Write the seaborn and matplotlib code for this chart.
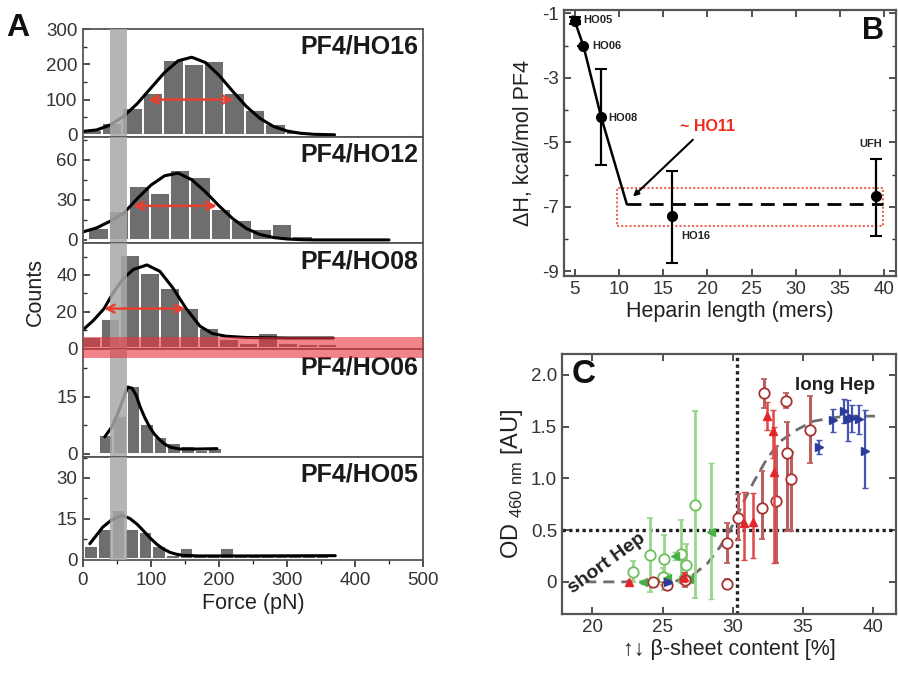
import matplotlib
matplotlib.use("Agg")
import matplotlib.pyplot as plt
import matplotlib.ticker as mt
from matplotlib.patches import Rectangle
import numpy as np
import pandas as pd
import seaborn as sns

sns.set_theme(style="ticks")
plt.rcParams["font.family"] = ["Liberation Sans", "DejaVu Sans"]
plt.rcParams["mathtext.fontset"] = "custom"
plt.rcParams["mathtext.rm"] = "Liberation Sans"
plt.rcParams["axes.unicode_minus"] = False

# ---------------- panel A: rupture force histograms ----------------
ho16_centers = [13, 43, 73, 103, 133, 163, 193, 223, 253, 283, 313, 343, 373, 403, 433, 463, 493]
ho16_counts = [14, 35, 77, 120, 211, 200, 209, 120, 71, 31, 12, 5, 1, 2, 2, 3, 4]
ho16_fit_x = [0, 20, 40, 60, 80, 100, 120, 140, 160, 180, 200, 220, 240, 260, 280, 300, 320, 340, 370]
ho16_fit_y = [10, 14, 28, 53, 89, 133, 177, 210, 220, 205, 169, 124, 81, 47, 24, 11, 4.5, 1.6, 0.3]

ho12_centers = [23, 53, 83, 113, 143, 173, 203, 233, 263, 293, 323]
ho12_counts = [9, 22, 40, 35, 52, 47, 23, 15, 8, 12, 3]
ho12_fit_x = [0, 20, 40, 60, 80, 100, 120, 140, 160, 180, 200, 220, 240, 260, 280, 300, 320, 340, 450]
ho12_fit_y = [6, 9, 14, 20, 31, 41, 48, 50, 45, 36, 25.5, 16, 8.6, 4.1, 1.8, 0.7, 0.2, 0, 0]

ho08_centers = [11.5, 40.5, 69.5, 98.5, 127.5, 156.5, 185.5, 214.5, 243.5, 272.5, 301.5, 330.5, 359.5]
ho08_counts = [6, 16, 51, 41, 33, 22, 11, 5, 3, 8, 3, 2, 2]
ho08_fit_x = [0, 15, 31, 44, 59, 74, 94, 113, 132, 151, 172, 190, 210, 240, 300, 368]
ho08_fit_y = [10, 15, 21.6, 30, 38, 43, 45.5, 42, 33, 22, 12, 8, 6.5, 5.8, 5.5, 5.5]

ho06_centers = [34, 54, 74, 94, 114, 134, 154, 174, 194]
ho06_counts = [5, 10, 18, 8, 4.5, 3, 2, 1, 1.5]
ho06_fit_x = [32, 42, 52, 60, 66, 72, 78, 84, 91, 98, 105, 113, 120, 128, 142, 170, 197]
ho06_fit_y = [4.5, 7, 11, 15, 17.6, 17.3, 15.5, 12.4, 9.5, 7.1, 5.2, 3.7, 2.6, 1.8, 1.3, 1.3, 1.4]

ho05_centers = [12, 32, 52, 72, 92, 112, 132, 152, 172, 192, 212, 232, 252, 272, 292, 312, 332, 352]
ho05_counts = [5, 11, 18, 11, 10, 5, 1.5, 4, 1, 1, 4, 1, 1, 1, 1, 1, 1, 1]
ho05_fit_x = [10, 29, 42, 57, 69, 80, 88, 98, 109, 118, 128, 138, 147, 170, 250, 371]
ho05_fit_y = [5.7, 11.8, 14.5, 16.2, 15, 12.8, 10.7, 8, 5.4, 3.8, 2.5, 1.8, 1.4, 1.2, 1.2, 1.3]

# FWHM arrows (from, to, height)
ho16_fwhm = (96, 221, 100)
ho12_fwhm = (74, 197, 25.5)
ho08_fwhm = (31, 151, 21.6)

# ---------------- panel B: enthalpy vs heparin length ----------------
b_length = [5, 6, 8, 16, 39]
b_dH = [-1.23, -2.02, -4.22, -7.27, -6.67]
b_low = [-1.33, -2.02, -5.70, -8.75, -7.89]
b_high = [-1.13, -2.02, -2.74, -5.88, -5.52]
b_names = ["HO05", "HO06", "HO08", "HO16", "UFH"]
b_name_x = [6.0, 7.0, 8.85, 17.1, 37.2]
b_name_y = [-1.2, -2.0, -4.25, -7.9, -5.05]
trend_x = [4.8, 5, 6, 8, 10.9]
trend_y = [-1.1, -1.23, -2.02, -4.22, -6.92]
plateau_x = [10.9, 39.8]
plateau_y = [-6.92, -6.92]

# ---------------- panel C: OD vs beta-sheet content ----------------
fit_c_x = [19.5, 24.5, 26, 27.2, 28.2, 29.1, 30, 30.75, 31.5, 32.43, 33.4, 34.57, 35.7, 36.9, 38, 40.1]
fit_c_y = [0, 0, 0.01, 0.07, 0.18, 0.34, 0.55, 0.77, 0.97, 1.19, 1.36, 1.47, 1.55, 1.58, 1.6, 1.6]

green_open_x = [22.9, 24.1, 25.1, 25.0, 26.3, 26.7, 27.3, 26.55]
green_open_y = [0.10, 0.26, 0.22, 0.05, 0.27, 0.16, 0.74, 0.03]
green_open_lo = [0.0, -0.10, -0.08, -0.03, -0.01, 0.02, -0.16, -0.02]
green_open_hi = [0.20, 0.62, 0.45, 0.13, 0.60, 0.37, 1.65, 0.08]

green_fill_x = [23.6, 25.3, 25.9, 26.85, 28.45]
green_fill_y = [0.0, 0.04, 0.25, 0.03, 0.48]
green_fill_lo = [-0.02, -0.01, 0.21, -0.01, -0.17]
green_fill_hi = [0.02, 0.09, 0.29, 0.07, 1.15]

red_tri_x = [22.6, 26.5, 30.8, 31.45, 32.4, 32.85, 32.9]
red_tri_y = [0.0, 0.05, 0.57, 0.58, 1.60, 1.46, 1.06]
red_tri_lo = [-0.02, 0.0, 0.21, 0.23, 1.47, 1.20, 0.18]
red_tri_hi = [0.02, 0.10, 0.87, 0.86, 1.74, 1.66, 1.50]

dred_x = [24.35, 25.3, 26.6, 29.6, 29.6, 30.4, 32.2, 33.8, 32.1, 33.1, 33.85, 34.1, 35.5]
dred_y = [0.0, -0.03, 0.02, 0.38, -0.02, 0.62, 1.82, 1.75, 0.71, 0.785, 1.24, 0.99, 1.47]
dred_lo = [-0.03, -0.08, -0.05, 0.18, -0.07, 0.40, 1.68, 1.68, 0.41, 0.18, 0.49, 0.49, 1.15]
dred_hi = [0.03, 0.02, 0.09, 0.57, 0.03, 0.85, 1.96, 1.82, 1.07, 1.31, 1.54, 1.25, 1.79]

blue_x = [25.4, 36.1, 37.15, 37.9, 38.2, 38.5, 39.0, 39.4]
blue_y = [0.0, 1.30, 1.56, 1.65, 1.57, 1.58, 1.57, 1.26]
blue_lo = [-0.02, 1.23, 1.45, 1.53, 1.36, 1.45, 1.43, 0.91]
blue_hi = [0.02, 1.37, 1.67, 1.77, 1.76, 1.71, 1.71, 1.66]

W, H = 898, 673
fig = plt.figure(figsize=(W / 100, H / 100), dpi=100)


def box(l, t, r, b):
    return [l / W, 1 - b / H, (r - l) / W, (b - t) / H]


bar_color = "#6e6e6e"
band_color = "#a8a8a8"
arrow_red = "#e8402f"
frame = "#555555"

panels = [
    ("PF4/HO16", ho16_centers, ho16_counts, 30, ho16_fit_x, ho16_fit_y, (-6, 300), [0, 100, 200, 300], 50, ho16_fwhm),
    ("PF4/HO12", ho12_centers, ho12_counts, 30, ho12_fit_x, ho12_fit_y, (-2.3, 77), [0, 30, 60], 15, ho12_fwhm),
    ("PF4/HO08", ho08_centers, ho08_counts, 29, ho08_fit_x, ho08_fit_y, (-0.5, 57.5), [0, 20, 40], 10, ho08_fwhm),
    ("PF4/HO06", ho06_centers, ho06_counts, 20, ho06_fit_x, ho06_fit_y, (-0.8, 27.6), [0, 15], 7.5, None),
    ("PF4/HO05", ho05_centers, ho05_counts, 20, ho05_fit_x, ho05_fit_y, (-0.3, 37.7), [0, 15, 30], 7.5, None),
]
edges_px = [29, 137, 243, 349, 457, 560]

axesA = []
for i, (name, cen, cnt, w, fx, fy, ylim, yt, ymin, fwhm) in enumerate(panels):
    ax = fig.add_axes(box(83, edges_px[i], 423, edges_px[i + 1]))
    hist_df = pd.DataFrame({"force": cen, "n": cnt})
    sns.histplot(data=hist_df, x="force", weights="n", binwidth=w,
                 binrange=(cen[0] - w / 2, cen[-1] + w / 2), ax=ax,
                 color=bar_color, edgecolor="white", linewidth=1.4, alpha=1,
                 zorder=1)
    sns.lineplot(x=fx, y=fy, ax=ax, color="black", lw=2.2, sort=False,
                 estimator=None, zorder=2)
    ax.axvspan(40, 65, color=band_color, alpha=0.85, lw=0, zorder=3)
    if fwhm is not None:
        ax.annotate("", xy=(fwhm[1], fwhm[2]), xytext=(fwhm[0], fwhm[2]),
                    arrowprops=dict(arrowstyle="<->", color=arrow_red, lw=1.8,
                                    mutation_scale=14, shrinkA=0, shrinkB=0),
                    zorder=4)
    ax.text(0.985, 1 - 18 / (edges_px[i + 1] - edges_px[i]), name,
            transform=ax.transAxes, ha="right", va="center",
            fontsize=18, fontweight="bold", color="#1a1a1a")
    ax.set_xlim(0, 500)
    ax.set_ylim(*ylim)
    ax.set_yticks(yt)
    ax.yaxis.set_minor_locator(mt.MultipleLocator(ymin))
    ax.tick_params(axis="y", which="both", direction="in", left=True,
                   labelsize=13.5, colors="#333333", pad=4)
    ax.tick_params(axis="y", which="major", length=5, width=1.2)
    ax.tick_params(axis="y", which="minor", length=3, width=1)
    ax.set_xlabel("")
    ax.set_ylabel("")
    for s in ax.spines.values():
        s.set_color(frame)
        s.set_linewidth(1.3)
    if i < 4:
        ax.tick_params(axis="x", which="both", bottom=False, labelbottom=False)
    else:
        ax.set_xticks([0, 100, 200, 300, 400, 500])
        ax.xaxis.set_minor_locator(mt.MultipleLocator(50))
        ax.tick_params(axis="x", which="both", direction="out", labelsize=13.5,
                       colors="#333333")
        ax.tick_params(axis="x", which="major", length=5, width=1.2)
        ax.tick_params(axis="x", which="minor", length=3, width=1)
        ax.set_xlabel("Force (pN)", fontsize=15.5, color="#222222", labelpad=3)
    axesA.append(ax)

fig.text(35 / W, 1 - 292 / H, "Counts", rotation=90, ha="center", va="center",
         fontsize=15.5, color="#222222")
fig.text(18 / W, 1 - 28 / H, "A", ha="center", va="center", fontsize=23,
         fontweight="bold", color="#111111")
fig.add_artist(Rectangle((83 / W, 1 - 358 / H), 340 / W, 21 / H,
                         transform=fig.transFigure, color="#e8333a",
                         alpha=0.6, lw=0, zorder=10))

# ---------------- panel B ----------------
axB = fig.add_axes(box(564, 10, 896, 276))
sns.lineplot(x=trend_x, y=trend_y, ax=axB, color="black", lw=1.8, sort=False,
             estimator=None)
sns.lineplot(x=plateau_x, y=plateau_y, ax=axB, color="black", lw=2,
             linestyle=(0, (5, 3)), sort=False, estimator=None)
dH = np.array(b_dH)
axB.errorbar(b_length, b_dH, yerr=[dH - np.array(b_low), np.array(b_high) - dH],
             fmt="o", color="black", ms=7, elinewidth=1.6, capsize=4,
             capthick=1.5, zorder=5)
axB.add_patch(Rectangle((9.8, -7.6), 30.0, 1.18, fill=False, ec="#ea6b5b",
                        lw=1.5, ls=(0, (1, 1))))
for n, x, y in zip(b_names, b_name_x, b_name_y):
    axB.text(x, y, n, fontsize=8, fontweight="bold", ha="left", va="center",
             color="#222222")
axB.text(16.9, -4.5, "~ HO11", color="#ee2b1f", fontsize=11.5,
         fontweight="bold", ha="left", va="center")
axB.annotate("", xy=(11.6, -6.68), xytext=(18.35, -4.92),
             arrowprops=dict(arrowstyle="-|>", color="black", lw=1.5,
                             mutation_scale=8, shrinkA=0, shrinkB=0))
axB.text(0.965, 0.92, "B", transform=axB.transAxes, ha="right", va="center",
         fontsize=22, fontweight="bold", color="#111111")
axB.set_xlim(3.8, 41.3)
axB.set_ylim(-9.14, -0.9)
axB.set_xticks([5, 10, 15, 20, 25, 30, 35, 40])
axB.set_yticks([-1, -3, -5, -7, -9])
axB.yaxis.set_minor_locator(mt.MultipleLocator(1))
axB.set_xlabel("Heparin length (mers)", fontsize=15.5, color="#222222", labelpad=2)
axB.set_ylabel("ΔH, kcal/mol PF4", fontsize=15.5, color="#222222", labelpad=6)

# ---------------- panel C ----------------
axC = fig.add_axes(box(562, 354, 896, 614))
axC.axhline(0.5, color="#222222", lw=2.4, ls=(0, (1, 1)), zorder=1)
axC.axvline(30.3, color="#222222", lw=2.4, ls=(0, (1, 1)), zorder=1)
sns.lineplot(x=fit_c_x, y=fit_c_y, ax=axC, color="#6e6e6e", lw=2,
             linestyle=(0, (4, 2.5)), sort=False, estimator=None, zorder=2)


def err_series(ax, x, y, lo, hi, **kw):
    y = np.array(y)
    ax.errorbar(x, y, yerr=[y - np.array(lo), np.array(hi) - y], **kw)


err_series(axC, green_open_x, green_open_y, green_open_lo, green_open_hi,
           fmt="o", ms=7.5, mfc="white", mec="#6cc05c", mew=1.3,
           ecolor="#98d68d", elinewidth=2, capsize=2, zorder=3)
err_series(axC, green_fill_x, green_fill_y, green_fill_lo, green_fill_hi,
           fmt="<", ms=6, color="#45b045", ecolor="#98d68d", elinewidth=2,
           capsize=2, zorder=3)
err_series(axC, dred_x, dred_y, dred_lo, dred_hi,
           fmt="o", ms=7.5, mfc="white", mec="#a83232", mew=1.3,
           ecolor="#bb6060", elinewidth=2.2, capsize=2, zorder=4)
err_series(axC, red_tri_x, red_tri_y, red_tri_lo, red_tri_hi,
           fmt="^", ms=6, color="#e4262b", ecolor="#e04848", elinewidth=1.8,
           capsize=2, zorder=5)
err_series(axC, blue_x, blue_y, blue_lo, blue_hi,
           fmt=">", ms=6, color="#2b3b9c", ecolor="#4656b0", elinewidth=1.6,
           capsize=2, zorder=5)

axC.text(18.55, 2.0, "C", ha="left", va="center", fontsize=24,
         fontweight="bold", color="#111111")
axC.text(34.4, 1.9, "long Hep", ha="left", va="center", fontsize=13.5,
         fontweight="bold", color="#222222")
axC.text(21.05, 0.18, "short Hep", ha="center", va="center", rotation=36,
         fontsize=14, fontweight="bold", color="#222222")
axC.set_xlim(17.85, 41.6)
axC.set_ylim(-0.31, 2.2)
axC.set_xticks([20, 25, 30, 35, 40])
axC.set_yticks([0, 0.5, 1.0, 1.5, 2.0])
axC.set_yticklabels(["0", "0.5", "1.0", "1.5", "2.0"])
axC.set_xlabel("↑↓ β-sheet content [%]", fontsize=15.5, color="#222222", labelpad=2)
axC.set_ylabel(r"OD$_{\mathregular{\ 460\ nm}}$ [AU]", fontsize=17, color="#222222",
               labelpad=4)

for ax in (axB, axC):
    ax.tick_params(which="both", direction="in", top=True, right=True,
                   labelsize=13.5, colors="#333333")
    ax.tick_params(which="major", length=5, width=1.2)
    ax.tick_params(which="minor", length=3, width=1)
    for s in ax.spines.values():
        s.set_color(frame)
        s.set_linewidth(1.6)

fig.savefig("out.png", dpi=100)
